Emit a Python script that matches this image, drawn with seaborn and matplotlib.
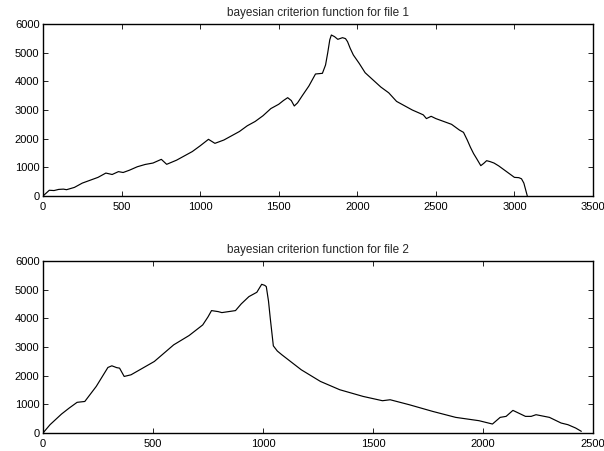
import numpy as np
import pandas as pd
import matplotlib
matplotlib.use("Agg")
import matplotlib.pyplot as plt
import seaborn as sns

title1 = "bayesian criterion function for file 1"
title2 = "bayesian criterion function for file 2"

x1 = [0, 20, 40, 70, 100, 130, 150, 200, 250, 300, 350, 400, 440, 480, 510, 550, 600,
      650, 700, 753, 787, 850, 900, 950, 1000, 1053, 1094, 1151, 1200, 1250, 1300,
      1350, 1400, 1450, 1500, 1530, 1557, 1580, 1599, 1620, 1650, 1692, 1734, 1778,
      1798, 1812, 1825, 1835, 1855, 1876, 1906, 1925, 1938, 1955, 1975, 2012, 2050,
      2100, 2150, 2200, 2250, 2300, 2350, 2400, 2420, 2440, 2470, 2500, 2550, 2600,
      2650, 2676, 2700, 2720, 2740, 2760, 2786, 2805, 2823, 2845, 2870, 2900, 2950,
      3000, 3028, 3045, 3060, 3082]
y1 = [0, 100, 200, 190, 230, 240, 220, 300, 450, 550, 650, 800, 750, 850, 820, 900,
      1020, 1100, 1150, 1279, 1105, 1250, 1400, 1550, 1750, 1977, 1837, 1953, 2100,
      2250, 2450, 2600, 2800, 3050, 3200, 3330, 3430, 3330, 3140, 3250, 3500, 3837,
      4256, 4279, 4570, 5000, 5450, 5616, 5560, 5465, 5523, 5490, 5384, 5150, 4918,
      4628, 4300, 4050, 3800, 3600, 3300, 3150, 3000, 2880, 2830, 2700, 2780, 2700,
      2600, 2500, 2300, 2220, 1950, 1700, 1480, 1300, 1058, 1140, 1232, 1200, 1150,
      1050, 850, 650, 640, 600, 450, 0]

x2 = [0, 32, 84, 119, 155, 190, 242, 295, 313, 335, 348, 369, 400, 506, 594, 664, 726,
      750, 766, 796, 813, 875, 901, 936, 972, 994, 1008, 1015, 1025, 1033, 1047, 1065,
      1086, 1174, 1261, 1349, 1455, 1543, 1578, 1665, 1771, 1876, 1982, 2043, 2078,
      2105, 2136, 2193, 2219, 2241, 2302, 2355, 2386, 2421, 2447]
y2 = [0, 290, 660, 870, 1070, 1100, 1625, 2286, 2344, 2280, 2263, 1973, 2030, 2495,
      3075, 3400, 3770, 4050, 4270, 4235, 4200, 4270, 4503, 4758, 4909, 5187, 5150,
      5106, 4600, 4004, 3040, 2860, 2727, 2205, 1799, 1509, 1276, 1126, 1160, 986, 754,
      545, 429, 313, 545, 580, 789, 580, 580, 638, 545, 348, 290, 174, 58]

xticks1 = [0, 500, 1000, 1500, 2000, 2500, 3000, 3500]
xticks2 = [0, 500, 1000, 1500, 2000, 2500]
yticks = [0, 1000, 2000, 3000, 4000, 5000, 6000]

sns.set_theme(style="white")
plt.rcParams["font.family"] = ["Liberation Sans", "DejaVu Sans"]

fig = plt.figure(figsize=(6.04, 4.51), dpi=100)
ax1 = fig.add_axes([43 / 604, 1 - 196 / 451, 550 / 604, 172 / 451])
ax2 = fig.add_axes([43 / 604, 1 - 433 / 451, 550 / 604, 172 / 451])

df1 = pd.DataFrame({"x": x1, "y": y1})
df2 = pd.DataFrame({"x": x2, "y": y2})

for ax, df, xt, title in [(ax1, df1, xticks1, title1), (ax2, df2, xticks2, title2)]:
    sns.lineplot(data=df, x="x", y="y", ax=ax, color="black", linewidth=0.85,
                 sort=False, estimator=None)
    ax.set_xlim(xt[0], xt[-1])
    ax.set_ylim(0, 6000)
    ax.set_xticks(xt)
    ax.set_yticks(yticks)
    ax.set_xlabel("")
    ax.set_ylabel("")
    ax.set_title(title, fontsize=8.5, pad=5.5)
    ax.tick_params(direction="in", length=3.6, width=0.6, labelsize=8,
                   top=True, right=True, bottom=True, left=True, colors="black")
    ax.tick_params(axis="x", pad=4)
    ax.tick_params(axis="y", pad=2.5)
    for s in ax.spines.values():
        s.set_visible(True)
        s.set_color("black")
        s.set_linewidth(1.0)

fig.savefig("out.png", dpi=100, facecolor="white")
